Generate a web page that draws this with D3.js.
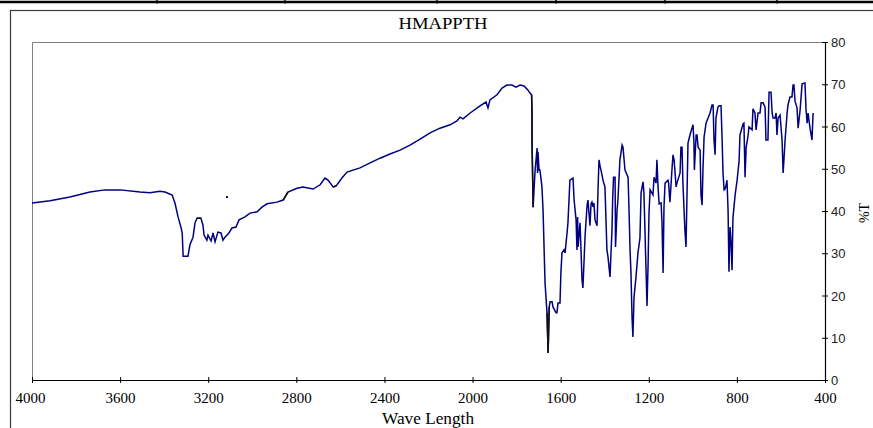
<!DOCTYPE html>
<html>
<head>
<meta charset="utf-8">
<script src="https://cdn.jsdelivr.net/npm/d3@7"></script>
<style>
  body { margin: 0; background: #fff; }
  svg { display: block; }
</style>
</head>
<body>
<div id="chart"></div>
<script>
// ---- data ----
const chartTitle = "HMAPPTH";
const xLabel = "Wave Length";
const yLabel = "%T";
const xTicks = [4000, 3600, 3200, 2800, 2400, 2000, 1600, 1200, 800, 400];
const yTicks = [0, 10, 20, 30, 40, 50, 60, 70, 80];

// [wave number, %T]
const spectrum = [
  [4000, 41.9], [3918, 42.4], [3828, 43.3], [3737, 44.5], [3669, 45.0], [3600, 45.0],
  [3510, 44.5], [3464, 44.3], [3419, 44.7], [3396, 44.5], [3364, 43.8], [3351, 41.9],
  [3337, 38.6], [3323, 36.0], [3318, 34.8], [3314, 29.3], [3292, 29.3], [3283, 32.0],
  [3269, 33.8], [3260, 37.2], [3251, 38.3], [3233, 38.3], [3224, 36.7], [3219, 34.3],
  [3206, 33.1], [3201, 34.3], [3187, 32.9], [3178, 34.8], [3169, 32.7], [3156, 35.0],
  [3142, 34.8], [3133, 33.1], [3124, 33.8], [3106, 34.8], [3092, 36.0], [3074, 36.2],
  [3060, 37.9], [3033, 38.6], [3010, 39.5], [2978, 39.8], [2956, 40.9], [2933, 41.7],
  [2888, 42.1], [2860, 42.6], [2838, 44.5], [2797, 45.4], [2770, 45.7], [2724, 45.2],
  [2692, 46.2], [2670, 47.8], [2656, 47.3], [2633, 45.7], [2620, 45.9], [2593, 47.8],
  [2570, 49.2], [2511, 50.2], [2465, 51.4], [2420, 52.5], [2375, 53.5], [2329, 54.4],
  [2284, 55.6], [2238, 57.0], [2193, 58.5], [2148, 59.6], [2102, 60.4], [2071, 61.3],
  [2057, 62.2], [2043, 61.8], [2011, 63.2], [1966, 64.9], [1939, 65.8], [1930, 64.4],
  [1921, 66.3], [1889, 67.5], [1866, 69.1], [1844, 69.8], [1821, 69.8], [1803, 69.3],
  [1784, 69.8], [1766, 69.6], [1748, 68.6], [1739, 67.9], [1732, 67.5], [1730, 63.2],
  [1730, 56.8], [1725, 40.9], [1721, 45.0], [1716, 49.7], [1707, 54.9], [1705, 49.0],
  [1703, 54.0], [1698, 49.7], [1694, 49.7], [1685, 45.7], [1680, 40.2], [1671, 23.0],
  [1662, 15.9], [1657, 6.4], [1652, 17.3], [1648, 18.5], [1639, 18.5], [1635, 17.3],
  [1621, 15.9], [1617, 15.9], [1612, 18.2], [1603, 18.2], [1599, 25.3], [1594, 30.1],
  [1585, 30.8], [1580, 30.1], [1571, 34.8], [1567, 37.2], [1558, 47.3], [1544, 47.8],
  [1539, 42.6], [1530, 37.9], [1526, 30.8], [1523, 38.6], [1521, 31.5], [1512, 37.2],
  [1503, 23.7], [1499, 21.8], [1489, 34.3], [1480, 41.4], [1476, 42.6], [1467, 36.5],
  [1462, 41.7], [1458, 42.1], [1453, 41.0], [1449, 41.9], [1444, 37.9], [1435, 36.5],
  [1430, 45.7], [1426, 52.1], [1421, 50.6], [1412, 48.5], [1408, 47.3], [1399, 45.7],
  [1390, 30.8], [1385, 29.1], [1376, 24.4], [1367, 35.5], [1364, 42.6], [1360, 48.0],
  [1353, 48.0], [1351, 31.5], [1344, 40.2], [1340, 42.6], [1331, 52.1], [1321, 55.6],
  [1317, 55.1], [1308, 49.7], [1294, 48.0], [1290, 40.9], [1285, 30.8], [1281, 25.6],
  [1276, 14.9], [1272, 10.2], [1267, 19.6], [1258, 24.4], [1249, 30.1], [1240, 33.6],
  [1235, 44.3], [1226, 46.9], [1222, 44.3], [1208, 17.5], [1203, 27.7], [1199, 39.5],
  [1194, 45.0], [1181, 43.8], [1176, 48.0], [1167, 46.6], [1163, 52.1], [1158, 45.7],
  [1153, 41.7], [1144, 41.9], [1140, 37.2], [1135, 25.3], [1131, 40.9], [1126, 46.6],
  [1113, 47.3], [1110, 46.6], [1104, 42.1], [1094, 50.4], [1090, 53.3], [1085, 52.1],
  [1076, 45.7], [1072, 46.6], [1058, 49.0], [1054, 55.1], [1049, 55.1], [1045, 46.6],
  [1036, 35.5], [1031, 31.5], [1022, 56.1], [1013, 58.0], [999, 60.4], [995, 56.1],
  [993, 49.7], [985, 58.0], [981, 58.0], [976, 55.1], [967, 54.4], [963, 43.8],
  [958, 41.4], [954, 49.7], [949, 57.5], [940, 60.8], [922, 63.2], [913, 65.1],
  [908, 65.1], [904, 57.0], [899, 53.3], [895, 62.0], [886, 64.6], [881, 64.9],
  [872, 64.9], [867, 56.8], [863, 49.0], [858, 45.0], [854, 45.2], [849, 46.1],
  [845, 47.3], [840, 40.2], [836, 25.6], [831, 36.2], [827, 33.0], [822, 26.0],
  [818, 38.3], [808, 43.8], [799, 47.3], [790, 51.9], [786, 58.0], [772, 60.6],
  [768, 60.8], [763, 48.0], [758, 55.1], [750, 57.5], [745, 59.9], [731, 59.2],
  [727, 64.2], [718, 63.2], [713, 59.2], [704, 63.2], [695, 63.2], [690, 65.6],
  [681, 65.6], [672, 64.6], [668, 56.8], [659, 56.8], [654, 68.1], [645, 68.1],
  [640, 63.2], [636, 62.0], [627, 62.0], [622, 63.2], [618, 58.0], [613, 62.0],
  [604, 62.7], [595, 56.8], [590, 49.0], [581, 57.0], [572, 63.2], [568, 65.1],
  [559, 67.0], [550, 67.0], [545, 69.8], [541, 69.8], [536, 66.0], [527, 64.4],
  [522, 59.6], [513, 63.9], [504, 70.1], [491, 70.3], [486, 63.9], [481, 60.8],
  [477, 63.2], [468, 59.6], [459, 56.8], [454, 63.2]
];

// stretches of the trace that show up black instead of blue [from, to]
const blackRanges = [[3251, 3233], [2860, 2838], [2633, 2620], [1732, 1725], [1662, 1652]];

// lone dot above the 3100 band
const strayPoints = [[3115, 43.3]];

class SpectrumChart {
  constructor(_config) {
    this.config = {
      parentElement: _config.parentElement,
      containerWidth: _config.containerWidth || 873,
      containerHeight: _config.containerHeight || 428,
      plot: { left: 32, right: 825, top: 42, bottom: 380 },
      frame: { x: 10.5, y: 10.5 },
      separators: [157, 285, 437, 556, 665, 777],
      lineColor: "#000080",
    };
    this.initVis();
  }

  initVis() {
    let vis = this;
    const p = vis.config.plot;

    vis.svg = d3
      .select(vis.config.parentElement)
      .append("svg")
      .attr("width", vis.config.containerWidth)
      .attr("height", vis.config.containerHeight);

    // scales (x runs backwards like an IR spectrum)
    vis.x = d3.scaleLinear().domain([4000, 400]).range([p.left, p.right]);
    vis.y = d3.scaleLinear().domain([0, 80]).range([p.bottom, p.top]);

    vis.drawFrame();
    vis.updateVis();
    vis.addAxes();
  }

  drawFrame() {
    let vis = this;
    const p = vis.config.plot;

    // table rule at the very top of the page
    vis.svg
      .append("line")
      .attr("x1", 0)
      .attr("x2", vis.config.containerWidth)
      .attr("y1", 2)
      .attr("y2", 2)
      .attr("stroke", "#000")
      .attr("stroke-width", 2.5);
    vis.svg
      .selectAll(".sep")
      .data(vis.config.separators)
      .join("line")
      .attr("class", "sep")
      .attr("x1", (d) => d)
      .attr("x2", (d) => d)
      .attr("y1", 0)
      .attr("y2", 3.5)
      .attr("stroke", "#000")
      .attr("stroke-width", 1.5);

    // chart area border (runs off the right and bottom edges)
    vis.svg
      .append("rect")
      .attr("x", vis.config.frame.x)
      .attr("y", vis.config.frame.y)
      .attr("width", 1000)
      .attr("height", 1000)
      .attr("fill", "none")
      .attr("stroke", "#3a3a3a")
      .attr("stroke-width", 1.2);

    // plot area: grey top and left edges
    vis.svg
      .append("path")
      .attr("d", `M${p.left + 0.5},${p.bottom}V${p.top + 0.5}H${p.right}`)
      .attr("fill", "none")
      .attr("stroke", "#808080")
      .attr("stroke-width", 1);
  }

  updateVis() {
    let vis = this;

    const line = d3
      .line()
      .x((d) => vis.x(d[0]))
      .y((d) => vis.y(d[1]));

    vis.svg
      .append("path")
      .datum(spectrum)
      .attr("fill", "none")
      .attr("stroke", vis.config.lineColor)
      .attr("stroke-width", 1.5)
      .attr("stroke-linejoin", "miter")
      .attr("d", line);

    // black overlay pieces
    blackRanges.forEach((r) => {
      const seg = spectrum.filter((d) => d[0] <= r[0] && d[0] >= r[1]);
      vis.svg
        .append("path")
        .datum(seg)
        .attr("fill", "none")
        .attr("stroke", "#111")
        .attr("stroke-width", 1.5)
        .attr("d", line);
    });

    vis.svg
      .selectAll(".stray")
      .data(strayPoints)
      .join("rect")
      .attr("class", "stray")
      .attr("x", (d) => vis.x(d[0]) - 1)
      .attr("y", (d) => vis.y(d[1]) - 1)
      .attr("width", 2)
      .attr("height", 2)
      .attr("fill", vis.config.lineColor);
  }

  addAxes() {
    let vis = this;
    const p = vis.config.plot;

    // y axis on the right side
    vis.yAxis = d3
      .axisRight(vis.y)
      .tickValues(yTicks)
      .tickSizeInner(3)
      .tickSizeOuter(0)
      .tickPadding(3)
      .tickFormat(d3.format("d"));
    const gy = vis.svg
      .append("g")
      .attr("id", "y-axis")
      .attr("transform", `translate(${p.right}, 0)`)
      .call(vis.yAxis);
    gy.select(".domain").attr("stroke", "#000").attr("stroke-width", 1.2);
    gy.selectAll(".tick line").attr("x1", -3).attr("stroke", "#000");
    gy.selectAll(".tick text")
      .attr("dy", "0.36em")
      .style("font-family", "'Liberation Sans', Arial, sans-serif")
      .style("font-size", "13px")
      .attr("fill", "#222");

    // x axis along the bottom
    vis.xAxis = d3
      .axisBottom(vis.x)
      .tickValues(xTicks)
      .tickSizeInner(3)
      .tickSizeOuter(0)
      .tickFormat(d3.format("d"));
    const gx = vis.svg
      .append("g")
      .attr("id", "x-axis")
      .attr("transform", `translate(0, ${p.bottom})`)
      .call(vis.xAxis);
    gx.select(".domain").attr("stroke", "#000").attr("stroke-width", 1.2);
    gx.selectAll(".tick line").attr("y1", -3).attr("stroke", "#000");
    gx.selectAll(".tick text")
      .attr("y", 23)
      .attr("dy", null)
      .style("font-family", "'Liberation Serif', 'Times New Roman', serif")
      .style("font-size", "15px")
      .attr("fill", "#000");
    // first label sits slightly inside, like the original
    gx.selectAll(".tick text")
      .filter((d) => d === 4000)
      .attr("x", -2);

    // x axis label
    vis.svg
      .append("text")
      .attr("x", 428)
      .attr("y", 424)
      .attr("text-anchor", "middle")
      .attr("textLength", 92)
      .attr("lengthAdjust", "spacingAndGlyphs")
      .style("font-family", "'Liberation Serif', 'Times New Roman', serif")
      .style("font-size", "16px")
      .text(xLabel);

    // y axis label, turned on its side at the far right
    vis.svg
      .append("text")
      .attr("transform", "translate(869, 213) rotate(-90)")
      .attr("text-anchor", "middle")
      .style("font-family", "'Liberation Serif', 'Times New Roman', serif")
      .style("font-size", "14px")
      .text(yLabel);

    // title
    vis.svg
      .append("text")
      .attr("x", 443)
      .attr("y", 29)
      .attr("text-anchor", "middle")
      .attr("textLength", 89)
      .attr("lengthAdjust", "spacingAndGlyphs")
      .style("font-family", "'Liberation Serif', 'Times New Roman', serif")
      .style("font-size", "16px")
      .text(chartTitle);
  }
}

new SpectrumChart({ parentElement: "#chart" });
</script>
</body>
</html>
